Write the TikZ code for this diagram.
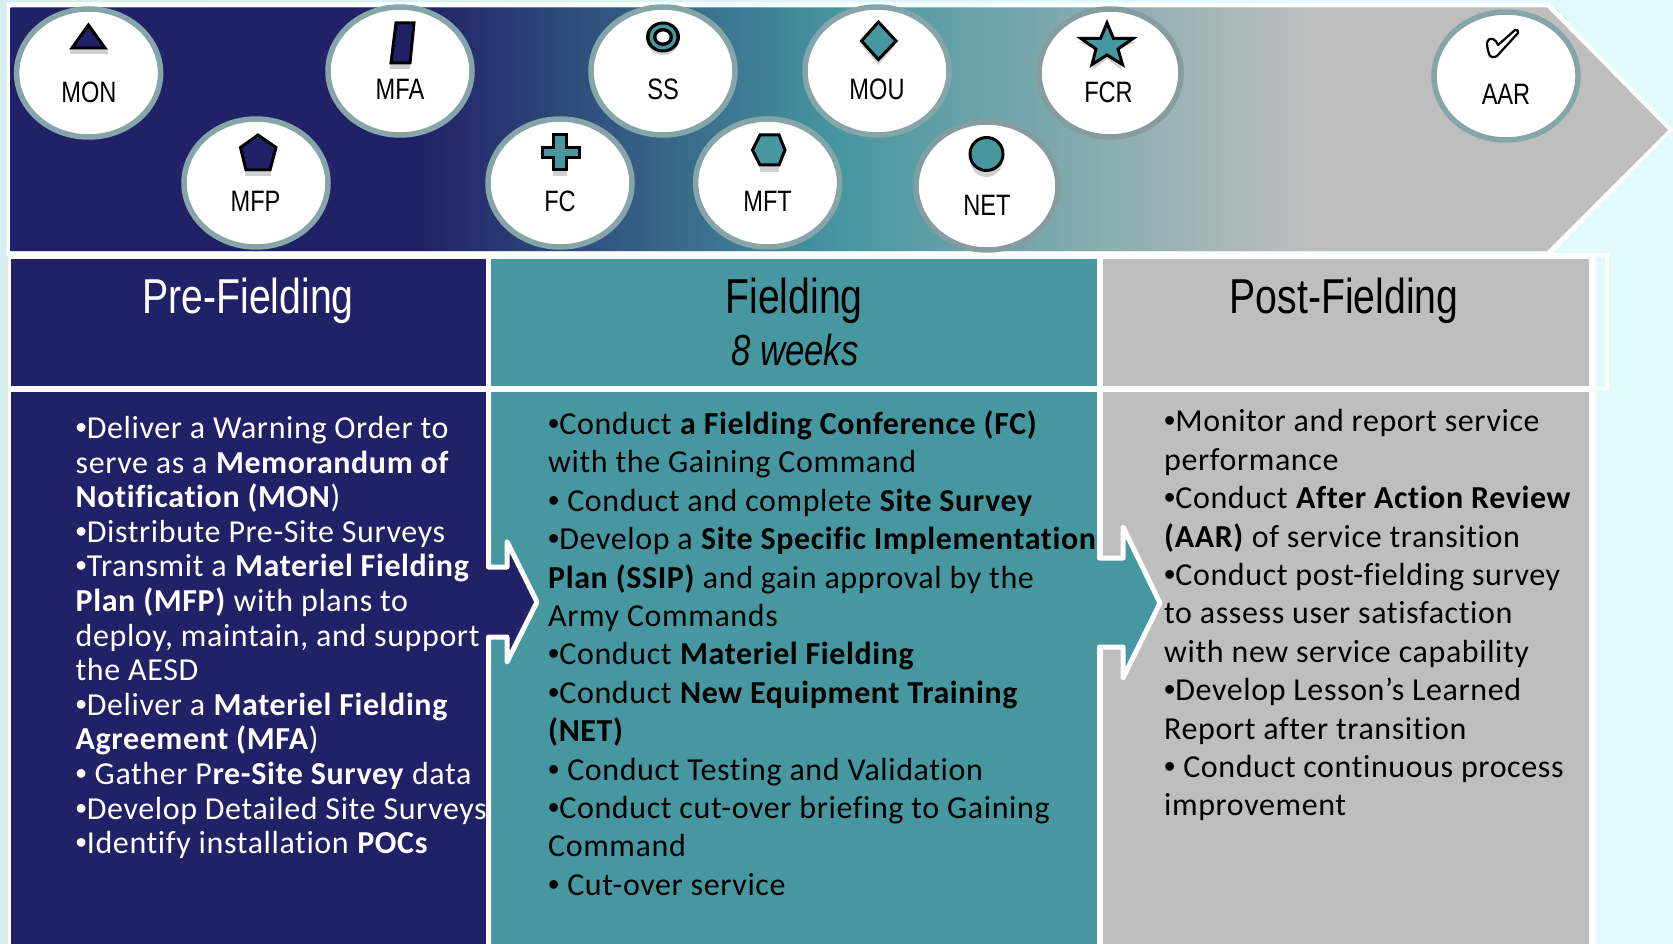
\documentclass[tikz,border=0pt]{standalone}
\usepackage{fontspec}
\setmainfont{Carlito}[Ligatures=NoCommon,LetterSpace=1.9]
\newfontfamily\narrowfont[FakeStretch=0.8]{Liberation Sans}
\newfontfamily\bulfont{Liberation Sans}
\newcommand{\bul}{{\bulfont •}}
\definecolor{navyc}{HTML}{212167}
\definecolor{tealc}{HTML}{4697A0}
\definecolor{grayc}{HTML}{BEBEBE}
\definecolor{bgl}{HTML}{D6EFF2}
\definecolor{bgr}{HTML}{E2FBFD}
\definecolor{ringc}{HTML}{86A5A9}
\definecolor{shadowc}{HTML}{D0D0D0}
\pgfdeclarehorizontalshading{bannershade}{100bp}{color(0bp)=(navyc); color(37.3bp)=(navyc); color(50bp)=(tealc); color(64.2bp)=(grayc); color(100bp)=(grayc)}
\pgfdeclarehorizontalshading{bgshade}{100bp}{color(0bp)=(bgl); color(25bp)=(bgl); color(75bp)=(bgr); color(100bp)=(bgr)}
\tikzset{
  phasecircle/.style={draw=ringc,line width=5.5pt,fill=white,ellipse,minimum width=144pt,minimum height=128pt,inner sep=0pt},
  circlelabel/.style={font=\narrowfont\fontsize{29.5}{30}\selectfont,anchor=base,text=black,inner sep=0pt},
  headerlabel/.style={font=\narrowfont\fontsize{49}{52}\selectfont,anchor=base,inner sep=0pt},
  bodytext/.style={anchor=north west,align=left,inner sep=0pt},
  icon/.style={draw=black,line width=3pt,line join=miter},
  iconshadow/.style={fill=shadowc,draw=none},
  jump/.style={draw=white,line width=5pt,line join=round,line cap=round},
}
\usetikzlibrary{shapes.geometric}
\begin{document}
\begin{tikzpicture}[x=1pt,y=-1pt]
\useasboundingbox (0,0) rectangle (1673,944);
\shade[shading=bgshade] (0,0) rectangle (1673,944);
% outline of the lower block
\draw[draw=white,line width=4pt] (8,255) -- (1607,255) -- (1607,389) -- (8,389);
% banner
\path[draw=white,line width=5pt,line join=miter] (9,5) -- (1548,5) -- (1670,130) -- (1548,254) -- (9,254) -- cycle;
\shade[shading=bannershade] (10.7,7.5) -- (1547,7.5) -- (1668,130) -- (1547,251) -- (10.7,251) -- cycle;
% panels
\fill[white] (8,256) rectangle (1596,944);
\fill[navyc] (10.7,259) rectangle (486,386);
\fill[tealc] (491,259) rectangle (1097,386);
\fill[grayc] (1102.6,259) rectangle (1589,386);
\fill[navyc] (10.7,392) rectangle (486,944);
\fill[tealc] (491,392) rectangle (1097,944);
\fill[grayc] (1102.6,392) rectangle (1589,944);
\fill[bgr] (1596,390) rectangle (1673,944);
% jump arrows
\fill[navyc] (480,567) -- (507,567) -- (507,541.7) -- (537,602) -- (507,662) -- (507,637) -- (480,637) -- cycle;
\draw[jump] (488.5,392) -- (488.5,567) -- (507,567) -- (507,541.7) -- (537,602) -- (507,662) -- (507,637) -- (488.5,637) -- (488.5,950);
\fill[tealc] (1090,558) -- (1123,558) -- (1123,527) -- (1160,603) -- (1123,678) -- (1123,647) -- (1090,647) -- cycle;
\draw[jump] (1099.5,392) -- (1099.5,558) -- (1123,558) -- (1123,527) -- (1160,603) -- (1123,678) -- (1123,647) -- (1099.5,647) -- (1099.5,950);
% phase circles
\node[phasecircle] (mon) at (88.6,73) {};
\node[phasecircle] (mfa) at (400,71) {};
\node[phasecircle] (mfp) at (256,183) {};
\node[phasecircle] (ss) at (663,71) {};
\node[phasecircle] (fc) at (560,183) {};
\node[phasecircle] (mft) at (767.6,183) {};
\node[phasecircle] (mou) at (877,71) {};
\node[phasecircle,draw=ringc!80!gray,minimum width=142pt] (fcr) at (1110,73) {};
\node[phasecircle,draw=ringc!80!gray,minimum width=142pt] (net) at (987,186) {};
\node[phasecircle] (aar) at (1506,76) {};
% labels
\node[circlelabel] (lmon) at (89,103) {MON};
\node[circlelabel] (lmfa) at (400,100) {MFA};
\node[circlelabel] (lmfp) at (255.5,212) {MFP};
\node[circlelabel] (lss) at (663,100) {SS};
\node[circlelabel] (lfc) at (560,212) {FC};
\node[circlelabel] (lmft) at (767.6,212) {MFT};
\node[circlelabel] (lmou) at (877,100) {MOU};
\node[circlelabel] (lfcr) at (1108.5,103) {FCR};
\node[circlelabel] (lnet) at (987,215) {NET};
\node[circlelabel] (laar) at (1506,105) {AAR};
% icons
\fill[iconshadow] (70,49) rectangle (108,54.5);
\draw[icon,fill=navyc] (88.4,25) -- (105,48) -- (72,48) -- cycle;
\fill[iconshadow] (390,62) rectangle (410,69.5);
\draw[icon,fill=navyc] (396,23) -- (414,23) -- (410,63) -- (391,63) -- cycle;
\fill[iconshadow] (663,40) ellipse (16pt and 15pt);
\fill[black] (663,37) ellipse (17pt and 15.5pt);
\fill[tealc] (663,37) ellipse (13.5pt and 12.5pt);
\fill[black] (663,37) ellipse (10pt and 9pt);
\fill[white] (663,37) ellipse (6.5pt and 5.5pt);
\fill[iconshadow] (245,172) rectangle (271,176);
\draw[icon,fill=navyc] (258,135) -- (276,147.5) -- (270,170) -- (246,170) -- (240.5,147.5) -- cycle;
\fill[iconshadow] (553,170) rectangle (567,176);
\draw[icon,fill=tealc] (553.5,135) -- (566.5,135) -- (566.5,147.5) -- (579,147.5) -- (579,158) -- (566.5,158) -- (566.5,170) -- (553.5,170) -- (553.5,158) -- (542,158) -- (542,147.5) -- (553.5,147.5) -- cycle;
\fill[iconshadow] (760,165) rectangle (779,172);
\draw[icon,fill=tealc] (760,135) -- (779,135) -- (785,150) -- (779,165) -- (760,165) -- (752.5,150) -- cycle;
\fill[iconshadow] (878.4,65) -- (862,46) -- (895,46) -- cycle;
\draw[icon,fill=tealc] (878.4,22) -- (896,41) -- (878.4,59.5) -- (861.5,41) -- cycle;
\fill[iconshadow] (1092,70) -- (1107,59) -- (1122,70) -- (1116,50) -- (1136,42) -- (1078,42) -- (1098,50) -- cycle;
\draw[icon,fill=tealc] (1107,23) -- (1113.5,38.5) -- (1133,38.5) -- (1118,49) -- (1122.5,64.5) -- (1107,55) -- (1092,64.5) -- (1096,49) -- (1081,38.5) -- (1100.5,38.5) -- cycle;
\fill[iconshadow] (986.5,158) ellipse (17pt and 19pt);
\draw[icon,fill=tealc] (986.5,154) ellipse (16.5pt and 16.5pt);
\draw[black,fill=white,line width=2.2pt,line join=round] (1487,43) .. controls (1488,39) and (1491,38) .. (1493,39) .. controls (1496,40) and (1497,43) .. (1498,45) -- (1515,30) .. controls (1517,29) and (1519,31) .. (1518,33) -- (1497,56) .. controls (1494,58) and (1491,57) .. (1490,56) .. controls (1488,52) and (1487,47) .. (1487,43) -- cycle;
% headers
\node[headerlabel,text=white] (hpre) at (248,313) {Pre-Fielding};
\node[headerlabel,text=black] (hfield) at (794,313) {Fielding};
\node[headerlabel,text=black,font=\narrowfont\itshape\fontsize{43.5}{45}\selectfont] (hweeks) at (795,365) {8 weeks};
\node[headerlabel,text=black] (hpost) at (1344,313) {Post-Fielding};
% body text
\node[bodytext,text=white,font=\fontsize{32}{34.6}\selectfont] (bpre) at (75.5,416) {\bul Deliver a Warning Order to\\
serve as a \textbf{Memorandum of}\\
\textbf{Notification (MON})\\
\bul Distribute Pre-Site Surveys\\
\bul Transmit a \textbf{Materiel Fielding}\\
\textbf{Plan (MFP)} with plans to\\
deploy, maintain, and support\\
the AESD\\
\bul Deliver a \textbf{Materiel Fielding}\\
\textbf{Agreement (MFA})\\
\bul{} Gather P\textbf{re-Site Survey} data\\
\bul Develop Detailed Site Surveys\\
\bul Identify installation \textbf{POCs}};
\node[bodytext,text=black,font=\fontsize{32}{38.4}\selectfont] (bfield) at (548,410.5) {\bul Conduct \textbf{a Fielding Conference (FC)}\\
with the Gaining Command\\
\bul{} Conduct and complete \textbf{Site Survey}\\
\bul Develop a \textbf{Site Specific Implementation}\\
\textbf{Plan (SSIP)} and gain approval by the\\
Army Commands\\
\bul Conduct \textbf{Materiel Fielding}\\
\bul Conduct \textbf{New Equipment Training}\\
\textbf{(NET)}\\
\bul{} Conduct Testing and Validation\\
\bul Conduct cut-over briefing to Gaining\\
Command\\
\bul{} Cut-over service};
\node[bodytext,text=black,font=\fontsize{32}{38.4}\selectfont] (bpost) at (1164,409.5) {\bul Monitor and report service\\
performance\\
\bul Conduct \textbf{After Action Review}\\
\textbf{(AAR)} of service transition\\
\bul Conduct post-fielding survey\\
to assess user satisfaction\\
with new service capability\\
\bul Develop Lesson’s Learned\\
Report after transition\\
\bul{} Conduct continuous process\\
improvement};
\end{tikzpicture}
\end{document}
